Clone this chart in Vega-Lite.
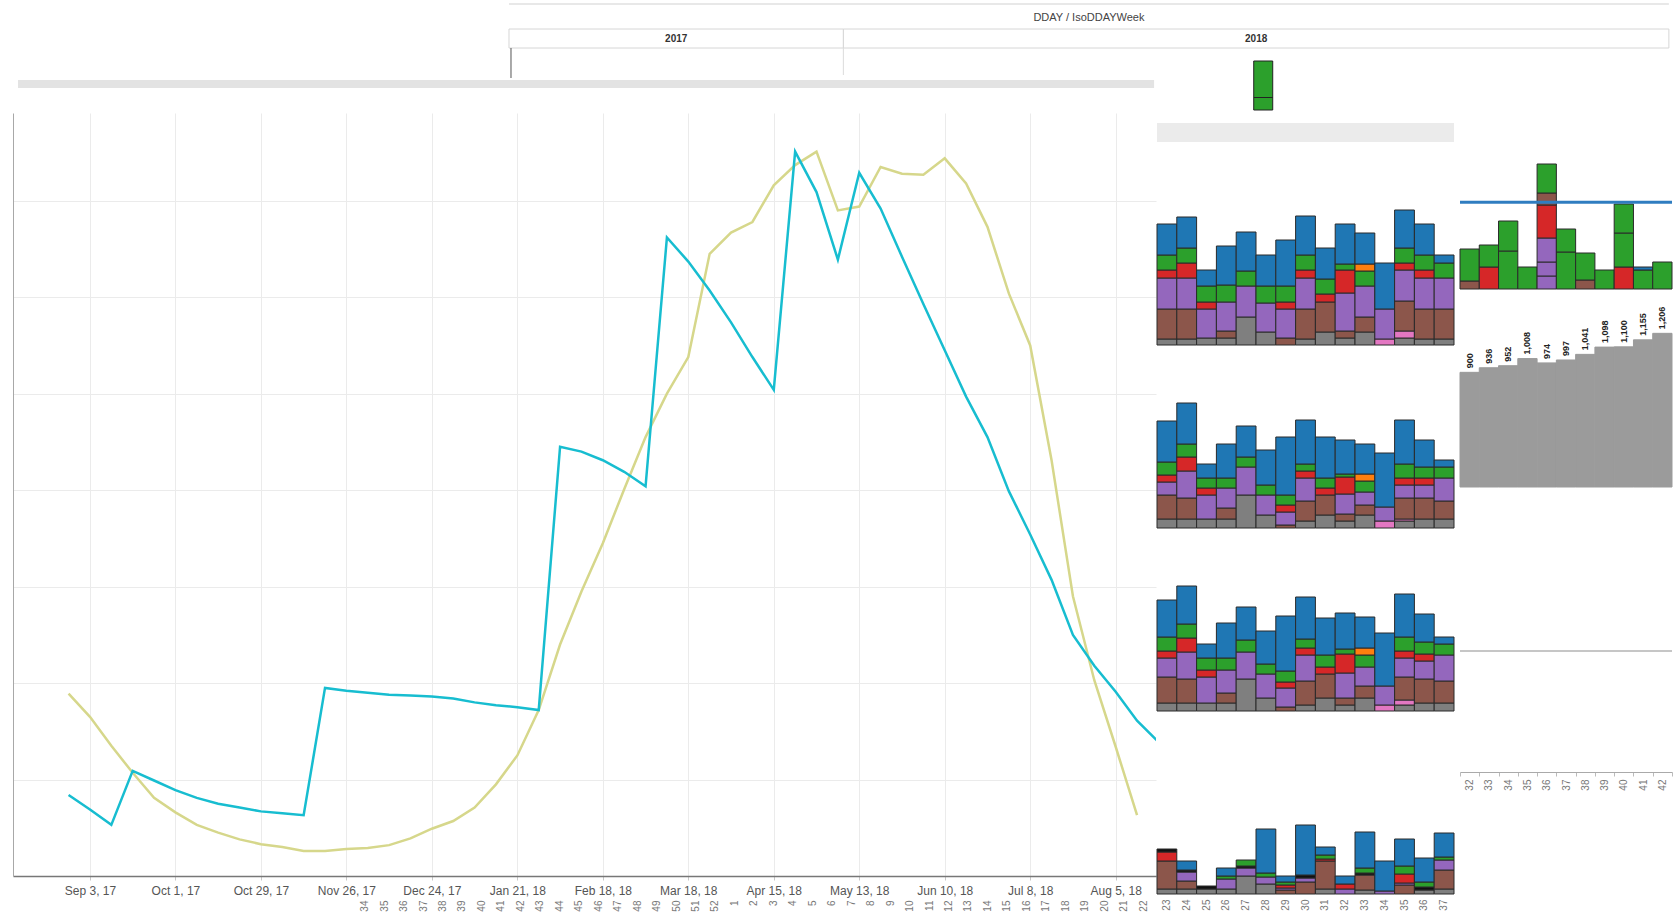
{
"$schema":"https://vega.github.io/schema/vega-lite/v6.json",
"padding":{"left":13,"top":0,"right":0,"bottom":0},
"background":"white",
"config":{"font":"Liberation Sans","view":{"stroke":null},"axis":{"labelFont":"Liberation Sans","titleFont":"Liberation Sans"},"text":{"font":"Liberation Sans"}},
"datasets":{
"hdr":[{"year":"2017","wkStart":0,"wkEnd":19},{"year":"2018","wkStart":19,"wkEnd":65.9}],
"top":[{"wk":43,"lo":0,"hi":12.5},{"wk":43,"lo":12.5,"hi":49}],
"main":[
{"d":"2017-08-27","s":"A","v":84},{"d":"2017-09-03","s":"A","v":69},{"d":"2017-09-10","s":"A","v":53},{"d":"2017-09-17","s":"A","v":109},{"d":"2017-09-24","s":"A","v":99},{"d":"2017-10-01","s":"A","v":89},{"d":"2017-10-08","s":"A","v":81},{"d":"2017-10-15","s":"A","v":75},{"d":"2017-10-22","s":"A","v":71},{"d":"2017-10-29","s":"A","v":67},{"d":"2017-11-05","s":"A","v":65},{"d":"2017-11-12","s":"A","v":63},{"d":"2017-11-19","s":"A","v":195},{"d":"2017-11-26","s":"A","v":192},{"d":"2017-12-03","s":"A","v":190},{"d":"2017-12-10","s":"A","v":188},{"d":"2017-12-17","s":"A","v":187},{"d":"2017-12-24","s":"A","v":186},{"d":"2017-12-31","s":"A","v":184},{"d":"2018-01-07","s":"A","v":180},{"d":"2018-01-14","s":"A","v":177},{"d":"2018-01-21","s":"A","v":175},{"d":"2018-01-28","s":"A","v":172},{"d":"2018-02-04","s":"A","v":445},{"d":"2018-02-11","s":"A","v":440},{"d":"2018-02-18","s":"A","v":431},{"d":"2018-02-25","s":"A","v":419},{"d":"2018-03-04","s":"A","v":404},{"d":"2018-03-11","s":"A","v":662},{"d":"2018-03-18","s":"A","v":637},{"d":"2018-03-25","s":"A","v":607},{"d":"2018-04-01","s":"A","v":574},{"d":"2018-04-08","s":"A","v":538},{"d":"2018-04-15","s":"A","v":504},{"d":"2018-04-22","s":"A","v":751},{"d":"2018-04-29","s":"A","v":709},{"d":"2018-05-06","s":"A","v":639},{"d":"2018-05-13","s":"A","v":729},{"d":"2018-05-20","s":"A","v":692},{"d":"2018-05-27","s":"A","v":642},{"d":"2018-06-03","s":"A","v":593},{"d":"2018-06-10","s":"A","v":545},{"d":"2018-06-17","s":"A","v":497},{"d":"2018-06-24","s":"A","v":455},{"d":"2018-07-01","s":"A","v":399},{"d":"2018-07-08","s":"A","v":354},{"d":"2018-07-15","s":"A","v":307},{"d":"2018-07-22","s":"A","v":250},{"d":"2018-07-29","s":"A","v":218},{"d":"2018-08-05","s":"A","v":191},{"d":"2018-08-12","s":"A","v":161},{"d":"2018-08-19","s":"A","v":139},
{"d":"2017-08-27","s":"B","v":189},{"d":"2017-09-03","s":"B","v":165},{"d":"2017-09-10","s":"B","v":135},{"d":"2017-09-17","s":"B","v":107},{"d":"2017-09-24","s":"B","v":81},{"d":"2017-10-01","s":"B","v":66},{"d":"2017-10-08","s":"B","v":53},{"d":"2017-10-15","s":"B","v":45},{"d":"2017-10-22","s":"B","v":38},{"d":"2017-10-29","s":"B","v":33},{"d":"2017-11-05","s":"B","v":30},{"d":"2017-11-12","s":"B","v":26},{"d":"2017-11-19","s":"B","v":26},{"d":"2017-11-26","s":"B","v":28},{"d":"2017-12-03","s":"B","v":29},{"d":"2017-12-10","s":"B","v":32},{"d":"2017-12-17","s":"B","v":39},{"d":"2017-12-24","s":"B","v":49},{"d":"2017-12-31","s":"B","v":57},{"d":"2018-01-07","s":"B","v":71},{"d":"2018-01-14","s":"B","v":95},{"d":"2018-01-21","s":"B","v":125},{"d":"2018-01-28","s":"B","v":172},{"d":"2018-02-04","s":"B","v":240},{"d":"2018-02-11","s":"B","v":295},{"d":"2018-02-18","s":"B","v":345},{"d":"2018-02-25","s":"B","v":401},{"d":"2018-03-04","s":"B","v":455},{"d":"2018-03-11","s":"B","v":500},{"d":"2018-03-18","s":"B","v":538},{"d":"2018-03-25","s":"B","v":645},{"d":"2018-04-01","s":"B","v":667},{"d":"2018-04-08","s":"B","v":678},{"d":"2018-04-15","s":"B","v":716},{"d":"2018-04-22","s":"B","v":737},{"d":"2018-04-29","s":"B","v":751},{"d":"2018-05-06","s":"B","v":690},{"d":"2018-05-13","s":"B","v":694},{"d":"2018-05-20","s":"B","v":735},{"d":"2018-05-27","s":"B","v":728},{"d":"2018-06-03","s":"B","v":727},{"d":"2018-06-10","s":"B","v":744},{"d":"2018-06-17","s":"B","v":718},{"d":"2018-06-24","s":"B","v":673},{"d":"2018-07-01","s":"B","v":604},{"d":"2018-07-08","s":"B","v":550},{"d":"2018-07-15","s":"B","v":431},{"d":"2018-07-22","s":"B","v":290},{"d":"2018-07-29","s":"B","v":203},{"d":"2018-08-05","s":"B","v":134},{"d":"2018-08-12","s":"B","v":63}
],
"weeks":[{"i":0,"wk":"34"},{"i":1,"wk":"35"},{"i":2,"wk":"36"},{"i":3,"wk":"37"},{"i":4,"wk":"38"},{"i":5,"wk":"39"},{"i":6,"wk":"40"},{"i":7,"wk":"41"},{"i":8,"wk":"42"},{"i":9,"wk":"43"},{"i":10,"wk":"44"},{"i":11,"wk":"45"},{"i":12,"wk":"46"},{"i":13,"wk":"47"},{"i":14,"wk":"48"},{"i":15,"wk":"49"},{"i":16,"wk":"50"},{"i":17,"wk":"51"},{"i":18,"wk":"52"},{"i":19,"wk":"1"},{"i":20,"wk":"2"},{"i":21,"wk":"3"},{"i":22,"wk":"4"},{"i":23,"wk":"5"},{"i":24,"wk":"6"},{"i":25,"wk":"7"},{"i":26,"wk":"8"},{"i":27,"wk":"9"},{"i":28,"wk":"10"},{"i":29,"wk":"11"},{"i":30,"wk":"12"},{"i":31,"wk":"13"},{"i":32,"wk":"14"},{"i":33,"wk":"15"},{"i":34,"wk":"16"},{"i":35,"wk":"17"},{"i":36,"wk":"18"},{"i":37,"wk":"19"},{"i":38,"wk":"20"},{"i":39,"wk":"21"},{"i":40,"wk":"22"}],
"stk":[
{"p":1,"w":23,"g":1,"v":6},{"p":1,"w":23,"g":3,"v":30},{"p":1,"w":23,"g":4,"v":31},{"p":1,"w":23,"g":5,"v":8},{"p":1,"w":23,"g":7,"v":15},{"p":1,"w":23,"g":9,"v":31},
{"p":1,"w":24,"g":1,"v":6},{"p":1,"w":24,"g":3,"v":30},{"p":1,"w":24,"g":4,"v":31},{"p":1,"w":24,"g":5,"v":15},{"p":1,"w":24,"g":7,"v":15},{"p":1,"w":24,"g":9,"v":31},
{"p":1,"w":25,"g":1,"v":7},{"p":1,"w":25,"g":4,"v":29},{"p":1,"w":25,"g":5,"v":7},{"p":1,"w":25,"g":7,"v":16},{"p":1,"w":25,"g":9,"v":16},
{"p":1,"w":26,"g":1,"v":7},{"p":1,"w":26,"g":3,"v":7},{"p":1,"w":26,"g":4,"v":29},{"p":1,"w":26,"g":7,"v":17},{"p":1,"w":26,"g":9,"v":39},
{"p":1,"w":27,"g":1,"v":28},{"p":1,"w":27,"g":4,"v":31},{"p":1,"w":27,"g":7,"v":15},{"p":1,"w":27,"g":9,"v":39},
{"p":1,"w":28,"g":1,"v":13},{"p":1,"w":28,"g":4,"v":29},{"p":1,"w":28,"g":7,"v":17},{"p":1,"w":28,"g":9,"v":31},
{"p":1,"w":29,"g":3,"v":7},{"p":1,"w":29,"g":4,"v":29},{"p":1,"w":29,"g":5,"v":7},{"p":1,"w":29,"g":7,"v":16},{"p":1,"w":29,"g":9,"v":46},
{"p":1,"w":30,"g":1,"v":6},{"p":1,"w":30,"g":3,"v":30},{"p":1,"w":30,"g":4,"v":31},{"p":1,"w":30,"g":5,"v":8},{"p":1,"w":30,"g":7,"v":15},{"p":1,"w":30,"g":9,"v":39},
{"p":1,"w":31,"g":1,"v":13},{"p":1,"w":31,"g":3,"v":30},{"p":1,"w":31,"g":5,"v":8},{"p":1,"w":31,"g":7,"v":15},{"p":1,"w":31,"g":9,"v":31},
{"p":1,"w":32,"g":1,"v":7},{"p":1,"w":32,"g":3,"v":7},{"p":1,"w":32,"g":4,"v":38},{"p":1,"w":32,"g":5,"v":23},{"p":1,"w":32,"g":7,"v":6},{"p":1,"w":32,"g":9,"v":40},
{"p":1,"w":33,"g":1,"v":13},{"p":1,"w":33,"g":3,"v":15},{"p":1,"w":33,"g":4,"v":31},{"p":1,"w":33,"g":7,"v":15},{"p":1,"w":33,"g":8,"v":7},{"p":1,"w":33,"g":9,"v":31},
{"p":1,"w":34,"g":2,"v":6},{"p":1,"w":34,"g":4,"v":30},{"p":1,"w":34,"g":9,"v":46},
{"p":1,"w":35,"g":1,"v":7},{"p":1,"w":35,"g":2,"v":7},{"p":1,"w":35,"g":3,"v":30},{"p":1,"w":35,"g":4,"v":31},{"p":1,"w":35,"g":5,"v":7},{"p":1,"w":35,"g":7,"v":15},{"p":1,"w":35,"g":9,"v":38},
{"p":1,"w":36,"g":1,"v":6},{"p":1,"w":36,"g":3,"v":30},{"p":1,"w":36,"g":4,"v":31},{"p":1,"w":36,"g":5,"v":8},{"p":1,"w":36,"g":7,"v":15},{"p":1,"w":36,"g":9,"v":31},
{"p":1,"w":37,"g":1,"v":6},{"p":1,"w":37,"g":3,"v":30},{"p":1,"w":37,"g":4,"v":31},{"p":1,"w":37,"g":7,"v":15},{"p":1,"w":37,"g":9,"v":8},
{"p":2,"w":23,"g":1,"v":9},{"p":2,"w":23,"g":3,"v":24},{"p":2,"w":23,"g":4,"v":13},{"p":2,"w":23,"g":5,"v":7},{"p":2,"w":23,"g":7,"v":13},{"p":2,"w":23,"g":9,"v":41},
{"p":2,"w":24,"g":1,"v":9},{"p":2,"w":24,"g":3,"v":21},{"p":2,"w":24,"g":4,"v":27},{"p":2,"w":24,"g":5,"v":14},{"p":2,"w":24,"g":7,"v":13},{"p":2,"w":24,"g":9,"v":41},
{"p":2,"w":25,"g":1,"v":9},{"p":2,"w":25,"g":4,"v":24},{"p":2,"w":25,"g":5,"v":7},{"p":2,"w":25,"g":7,"v":10},{"p":2,"w":25,"g":9,"v":14},
{"p":2,"w":26,"g":1,"v":9},{"p":2,"w":26,"g":3,"v":11},{"p":2,"w":26,"g":4,"v":20},{"p":2,"w":26,"g":7,"v":10},{"p":2,"w":26,"g":9,"v":34},
{"p":2,"w":27,"g":1,"v":33},{"p":2,"w":27,"g":4,"v":28},{"p":2,"w":27,"g":7,"v":10},{"p":2,"w":27,"g":9,"v":31},
{"p":2,"w":28,"g":1,"v":13},{"p":2,"w":28,"g":4,"v":20},{"p":2,"w":28,"g":7,"v":10},{"p":2,"w":28,"g":9,"v":35},
{"p":2,"w":29,"g":3,"v":3},{"p":2,"w":29,"g":4,"v":13},{"p":2,"w":29,"g":5,"v":7},{"p":2,"w":29,"g":7,"v":10},{"p":2,"w":29,"g":9,"v":58},
{"p":2,"w":30,"g":1,"v":7},{"p":2,"w":30,"g":3,"v":20},{"p":2,"w":30,"g":4,"v":23},{"p":2,"w":30,"g":5,"v":7},{"p":2,"w":30,"g":7,"v":7},{"p":2,"w":30,"g":9,"v":44},
{"p":2,"w":31,"g":1,"v":13},{"p":2,"w":31,"g":3,"v":20},{"p":2,"w":31,"g":5,"v":7},{"p":2,"w":31,"g":7,"v":10},{"p":2,"w":31,"g":9,"v":41},
{"p":2,"w":32,"g":1,"v":7},{"p":2,"w":32,"g":3,"v":7},{"p":2,"w":32,"g":4,"v":20},{"p":2,"w":32,"g":5,"v":17},{"p":2,"w":32,"g":7,"v":3},{"p":2,"w":32,"g":9,"v":34},
{"p":2,"w":33,"g":1,"v":13},{"p":2,"w":33,"g":3,"v":10},{"p":2,"w":33,"g":4,"v":13},{"p":2,"w":33,"g":7,"v":11},{"p":2,"w":33,"g":8,"v":7},{"p":2,"w":33,"g":9,"v":30},
{"p":2,"w":34,"g":2,"v":7},{"p":2,"w":34,"g":4,"v":14},{"p":2,"w":34,"g":9,"v":54},
{"p":2,"w":35,"g":1,"v":7},{"p":2,"w":35,"g":2,"v":2},{"p":2,"w":35,"g":3,"v":21},{"p":2,"w":35,"g":4,"v":13},{"p":2,"w":35,"g":5,"v":7},{"p":2,"w":35,"g":7,"v":14},{"p":2,"w":35,"g":9,"v":44},
{"p":2,"w":36,"g":1,"v":9},{"p":2,"w":36,"g":3,"v":21},{"p":2,"w":36,"g":4,"v":13},{"p":2,"w":36,"g":5,"v":7},{"p":2,"w":36,"g":7,"v":11},{"p":2,"w":36,"g":9,"v":27},
{"p":2,"w":37,"g":1,"v":9},{"p":2,"w":37,"g":3,"v":18},{"p":2,"w":37,"g":4,"v":23},{"p":2,"w":37,"g":7,"v":11},{"p":2,"w":37,"g":9,"v":7},
{"p":3,"w":23,"g":1,"v":8},{"p":3,"w":23,"g":3,"v":26},{"p":3,"w":23,"g":4,"v":19},{"p":3,"w":23,"g":5,"v":7},{"p":3,"w":23,"g":7,"v":14},{"p":3,"w":23,"g":9,"v":37},
{"p":3,"w":24,"g":1,"v":8},{"p":3,"w":24,"g":3,"v":24},{"p":3,"w":24,"g":4,"v":27},{"p":3,"w":24,"g":5,"v":14},{"p":3,"w":24,"g":7,"v":14},{"p":3,"w":24,"g":9,"v":38},
{"p":3,"w":25,"g":1,"v":8},{"p":3,"w":25,"g":4,"v":26},{"p":3,"w":25,"g":5,"v":7},{"p":3,"w":25,"g":7,"v":12},{"p":3,"w":25,"g":9,"v":14},
{"p":3,"w":26,"g":1,"v":8},{"p":3,"w":26,"g":3,"v":10},{"p":3,"w":26,"g":4,"v":23},{"p":3,"w":26,"g":7,"v":12},{"p":3,"w":26,"g":9,"v":35},
{"p":3,"w":27,"g":1,"v":32},{"p":3,"w":27,"g":4,"v":27},{"p":3,"w":27,"g":7,"v":12},{"p":3,"w":27,"g":9,"v":33},
{"p":3,"w":28,"g":1,"v":13},{"p":3,"w":28,"g":4,"v":24},{"p":3,"w":28,"g":7,"v":10},{"p":3,"w":28,"g":9,"v":33},
{"p":3,"w":29,"g":3,"v":4},{"p":3,"w":29,"g":4,"v":19},{"p":3,"w":29,"g":5,"v":6},{"p":3,"w":29,"g":7,"v":11},{"p":3,"w":29,"g":9,"v":55},
{"p":3,"w":30,"g":1,"v":6},{"p":3,"w":30,"g":3,"v":24},{"p":3,"w":30,"g":4,"v":26},{"p":3,"w":30,"g":5,"v":7},{"p":3,"w":30,"g":7,"v":9},{"p":3,"w":30,"g":9,"v":42},
{"p":3,"w":31,"g":1,"v":13},{"p":3,"w":31,"g":3,"v":24},{"p":3,"w":31,"g":5,"v":7},{"p":3,"w":31,"g":7,"v":12},{"p":3,"w":31,"g":9,"v":37},
{"p":3,"w":32,"g":1,"v":6},{"p":3,"w":32,"g":3,"v":7},{"p":3,"w":32,"g":4,"v":25},{"p":3,"w":32,"g":5,"v":19},{"p":3,"w":32,"g":7,"v":5},{"p":3,"w":32,"g":9,"v":36},
{"p":3,"w":33,"g":1,"v":13},{"p":3,"w":33,"g":3,"v":12},{"p":3,"w":33,"g":4,"v":19},{"p":3,"w":33,"g":7,"v":12},{"p":3,"w":33,"g":8,"v":7},{"p":3,"w":33,"g":9,"v":31},
{"p":3,"w":34,"g":2,"v":6},{"p":3,"w":34,"g":4,"v":19},{"p":3,"w":34,"g":9,"v":53},
{"p":3,"w":35,"g":1,"v":6},{"p":3,"w":35,"g":2,"v":5},{"p":3,"w":35,"g":3,"v":23},{"p":3,"w":35,"g":4,"v":19},{"p":3,"w":35,"g":5,"v":7},{"p":3,"w":35,"g":7,"v":14},{"p":3,"w":35,"g":9,"v":43},
{"p":3,"w":36,"g":1,"v":8},{"p":3,"w":36,"g":3,"v":24},{"p":3,"w":36,"g":4,"v":18},{"p":3,"w":36,"g":5,"v":7},{"p":3,"w":36,"g":7,"v":12},{"p":3,"w":36,"g":9,"v":28},
{"p":3,"w":37,"g":1,"v":8},{"p":3,"w":37,"g":3,"v":22},{"p":3,"w":37,"g":4,"v":26},{"p":3,"w":37,"g":7,"v":11},{"p":3,"w":37,"g":9,"v":7},
{"p":4,"w":23,"g":1,"v":5},{"p":4,"w":23,"g":3,"v":28},{"p":4,"w":23,"g":5,"v":9},{"p":4,"w":23,"g":6,"v":3},
{"p":4,"w":24,"g":1,"v":5},{"p":4,"w":24,"g":3,"v":8},{"p":4,"w":24,"g":4,"v":9},{"p":4,"w":24,"g":6,"v":2},{"p":4,"w":24,"g":9,"v":9},
{"p":4,"w":25,"g":1,"v":5},{"p":4,"w":25,"g":6,"v":3},
{"p":4,"w":26,"g":1,"v":5},{"p":4,"w":26,"g":4,"v":10},{"p":4,"w":26,"g":7,"v":3},{"p":4,"w":26,"g":9,"v":8},
{"p":4,"w":27,"g":1,"v":18},{"p":4,"w":27,"g":4,"v":8},{"p":4,"w":27,"g":6,"v":2},{"p":4,"w":27,"g":7,"v":6},
{"p":4,"w":28,"g":1,"v":10},{"p":4,"w":28,"g":4,"v":7},{"p":4,"w":28,"g":7,"v":4},{"p":4,"w":28,"g":9,"v":44},
{"p":4,"w":29,"g":3,"v":4},{"p":4,"w":29,"g":4,"v":2},{"p":4,"w":29,"g":5,"v":3},{"p":4,"w":29,"g":7,"v":3},{"p":4,"w":29,"g":9,"v":6},
{"p":4,"w":30,"g":3,"v":12},{"p":4,"w":30,"g":4,"v":4},{"p":4,"w":30,"g":6,"v":3},{"p":4,"w":30,"g":9,"v":50},
{"p":4,"w":31,"g":1,"v":5},{"p":4,"w":31,"g":3,"v":28},{"p":4,"w":31,"g":5,"v":2},{"p":4,"w":31,"g":7,"v":4},{"p":4,"w":31,"g":9,"v":8},
{"p":4,"w":32,"g":4,"v":5},{"p":4,"w":32,"g":5,"v":5},{"p":4,"w":32,"g":9,"v":8},
{"p":4,"w":33,"g":1,"v":4},{"p":4,"w":33,"g":3,"v":15},{"p":4,"w":33,"g":6,"v":2},{"p":4,"w":33,"g":7,"v":5},{"p":4,"w":33,"g":9,"v":36},
{"p":4,"w":34,"g":4,"v":3},{"p":4,"w":34,"g":9,"v":30},
{"p":4,"w":35,"g":3,"v":9},{"p":4,"w":35,"g":4,"v":2},{"p":4,"w":35,"g":5,"v":9},{"p":4,"w":35,"g":7,"v":8},{"p":4,"w":35,"g":9,"v":27},
{"p":4,"w":36,"g":1,"v":4},{"p":4,"w":36,"g":6,"v":3},{"p":4,"w":36,"g":7,"v":5},{"p":4,"w":36,"g":9,"v":24},
{"p":4,"w":37,"g":1,"v":5},{"p":4,"w":37,"g":3,"v":19},{"p":4,"w":37,"g":4,"v":10},{"p":4,"w":37,"g":7,"v":3},{"p":4,"w":37,"g":9,"v":24}
],
"gb":[
{"w":32,"g":3,"v":8,"s":1},{"w":32,"g":7,"v":32,"s":2},
{"w":33,"g":5,"v":22,"s":1},{"w":33,"g":7,"v":22,"s":2},
{"w":34,"g":7,"v":38,"s":1},{"w":34,"g":7,"v":30,"s":2},
{"w":35,"g":7,"v":22,"s":1},
{"w":36,"g":4,"v":13,"s":1},{"w":36,"g":4,"v":14,"s":2},{"w":36,"g":4,"v":24,"s":3},{"w":36,"g":5,"v":33,"s":4},{"w":36,"g":3,"v":12,"s":5},{"w":36,"g":7,"v":29,"s":6},
{"w":37,"g":7,"v":37,"s":1},{"w":37,"g":7,"v":23,"s":2},
{"w":38,"g":3,"v":9,"s":1},{"w":38,"g":7,"v":27,"s":2},
{"w":39,"g":7,"v":19,"s":1},
{"w":40,"g":5,"v":22,"s":1},{"w":40,"g":7,"v":34,"s":2},{"w":40,"g":7,"v":29,"s":3},
{"w":41,"g":7,"v":19,"s":1},{"w":41,"g":9,"v":3,"s":2},
{"w":42,"g":7,"v":27,"s":1}
],
"gray":[{"w":32,"v":900},{"w":33,"v":936},{"w":34,"v":952},{"w":35,"v":1008},{"w":36,"v":974},{"w":37,"v":997},{"w":38,"v":1041},{"w":39,"v":1098},{"w":40,"v":1100},{"w":41,"v":1155},{"w":42,"v":1206}]
},
"spacing":0,
"vconcat":[
{"spacing":0,"bounds":"flush","vconcat":[
 {"width":1652,"height":29,"data":{"values":[{"t":"DDAY / IsoDDAYWeek"}]},"layer":[
  {"mark":{"type":"rule","color":"#e0e0e0","strokeWidth":1.5},"encoding":{"x":{"datum":0,"type":"quantitative","scale":{"domain":[-28.18,65.68],"nice":false,"zero":false},"axis":null},"x2":{"datum":65.9},"y":{"datum":25,"type":"quantitative","scale":{"domain":[0,29],"nice":false},"axis":null}}},
  {"mark":{"type":"text","fontSize":11,"color":"#444","baseline":"middle"},"encoding":{"x":{"datum":32.95,"type":"quantitative","scale":{"domain":[-28.18,65.68],"nice":false,"zero":false},"axis":null},"y":{"datum":11,"type":"quantitative","scale":{"domain":[0,29],"nice":false},"axis":null},"text":{"field":"t","type":"nominal"}}}
 ]},
 {"width":1652,"height":19,"data":{"name":"hdr"},"layer":[
  {"mark":{"type":"rect","fill":"white","stroke":"#d6d6d6","strokeWidth":1},"encoding":{"x":{"field":"wkStart","type":"quantitative","scale":{"domain":[-28.18,65.68],"nice":false,"zero":false},"axis":null},"x2":{"field":"wkEnd"}}},
  {"transform":[{"fold":["wkStart","wkEnd"],"as":["k","pos"]}],"mark":{"type":"text","fontSize":10,"fontWeight":"bold","color":"#333","baseline":"middle"},"encoding":{"x":{"field":"pos","aggregate":"mean","type":"quantitative","scale":{"domain":[-28.18,65.68],"nice":false,"zero":false},"axis":null},"text":{"field":"year","type":"nominal"}}}
 ]},
 {"width":1652,"height":65,"layer":[
  {"data":{"values":[{}]},"mark":{"type":"rect","color":"#e3e3e3"},"encoding":{"x":{"datum":-28.18,"type":"quantitative","scale":{"domain":[-28.18,65.68],"nice":false,"zero":false},"axis":null},"x2":{"datum":36.76},"y":{"datum":30,"type":"quantitative","scale":{"domain":[-3,62],"nice":false,"zero":false},"axis":null},"y2":{"datum":22}}},
  {"data":{"values":[{}]},"mark":{"type":"rule","color":"#555","strokeWidth":1},"encoding":{"x":{"datum":0,"type":"quantitative"},"y":{"datum":62,"type":"quantitative"},"y2":{"datum":32}}},
  {"data":{"values":[{}]},"mark":{"type":"rule","color":"#dcdcdc","strokeWidth":1},"encoding":{"x":{"datum":19,"type":"quantitative"},"y":{"datum":62,"type":"quantitative"},"y2":{"datum":35}}},
  {"data":{"name":"top"},"mark":{"type":"bar","width":19,"color":"#2ca02c","stroke":"#222","strokeWidth":1},"encoding":{"x":{"field":"wk","type":"quantitative"},"y":{"field":"lo","type":"quantitative"},"y2":{"field":"hi"}}}
 ]}
]},
{"spacing":0,"hconcat":[
 {"width":1143,"height":763,
  "layer":[
   {"data":{"name":"main"},"layer":[
    {"transform":[{"filter":"datum.s=='B'"}],"mark":{"type":"line","color":"#d6d78b","strokeWidth":2.5,"clip":true},"encoding":{
     "x":{"field":"d","type":"temporal","scale":{"type":"utc","domain":[{"year":2017,"month":8,"date":8,"hours":19,"utc":true},{"year":2018,"month":8,"date":18,"hours":5,"utc":true}]},"axis":{"values":[{"year":2017,"month":9,"date":3,"utc":true},{"year":2017,"month":10,"date":1,"utc":true},{"year":2017,"month":10,"date":29,"utc":true},{"year":2017,"month":11,"date":26,"utc":true},{"year":2017,"month":12,"date":24,"utc":true},{"year":2018,"month":1,"date":21,"utc":true},{"year":2018,"month":2,"date":18,"utc":true},{"year":2018,"month":3,"date":18,"utc":true},{"year":2018,"month":4,"date":15,"utc":true},{"year":2018,"month":5,"date":13,"utc":true},{"year":2018,"month":6,"date":10,"utc":true},{"year":2018,"month":7,"date":8,"utc":true},{"year":2018,"month":8,"date":5,"utc":true}],"format":"%b %-d, %y","labelFontSize":12,"labelColor":"#555","labelPadding":5,"labelOverlap":false,"labelFlush":false,"grid":true,"gridColor":"#ebebeb","domainColor":"#777","domainWidth":1.5,"tickColor":"#c8c8c8","tickSize":4,"title":null}},
     "y":{"field":"v","type":"quantitative","scale":{"domain":[0,791],"nice":false},"axis":{"values":[0,100,200,300,400,500,600,700],"labels":false,"ticks":false,"grid":true,"gridColor":"#ebebeb","domainColor":"#a8a8a8","title":null}}}},
    {"transform":[{"filter":"datum.s=='A'"}],"mark":{"type":"line","color":"#17bdd0","strokeWidth":2.5,"clip":true},"encoding":{
     "x":{"field":"d","type":"temporal"},
     "y":{"field":"v","type":"quantitative"}}}
   ]},
   {"data":{"name":"weeks"},"mark":{"type":"point","opacity":0},"encoding":{"x":{"field":"i","type":"quantitative","scale":{"domain":[-18.07,40.66],"nice":false,"zero":false},"axis":{"orient":"bottom","offset":22,"values":[0,1,2,3,4,5,6,7,8,9,10,11,12,13,14,15,16,17,18,19,20,21,22,23,24,25,26,27,28,29,30,31,32,33,34,35,36,37,38,39,40],"labelExpr":"datum.value < 19 ? '' + (datum.value + 34) : '' + (datum.value - 18)","labelAngle":270,"labelFontSize":10,"labelColor":"#777","labelOverlap":false,"labelPadding":2,"domain":false,"ticks":false,"grid":false,"title":null}}}}
  ],
  "resolve":{"scale":{"x":"independent"},"axis":{"x":"independent"}}
 },
 {"spacing":0,"bounds":"flush","vconcat":[
  {"width":297,"height":10,"data":{"values":[{}]},"mark":{"type":"point","opacity":0},"encoding":{}},
  {"width":297,"height":19,"view":{"fill":"#ebebeb","stroke":null},"data":{"values":[{}]},"mark":{"type":"point","opacity":0},"encoding":{}},
  {"width":297,"height":203,"data":{"name":"stk"},"transform":[{"filter":"datum.p==1"}],"mark":{"type":"bar","stroke":"#2a2a2a","strokeWidth":1},"encoding":{
   "x":{"field":"w","type":"ordinal","scale":{"paddingInner":0,"paddingOuter":0},"axis":null},
   "y":{"field":"v","type":"quantitative","stack":"zero","scale":{"domain":[0,203],"nice":false},"axis":null},
   "color":{"field":"g","type":"nominal","scale":{"domain":[1,2,3,4,5,6,7,8,9],"range":["#7f7f7f","#e377c2","#8c564b","#9467bd","#d62728","#111111","#2ca02c","#ff7f0e","#1f77b4"]},"legend":null},
   "order":{"field":"g","type":"quantitative"}}},
  {"width":297,"height":183,"data":{"name":"stk"},"transform":[{"filter":"datum.p==2"}],"mark":{"type":"bar","stroke":"#2a2a2a","strokeWidth":1},"encoding":{
   "x":{"field":"w","type":"ordinal","scale":{"paddingInner":0,"paddingOuter":0},"axis":null},
   "y":{"field":"v","type":"quantitative","stack":"zero","scale":{"domain":[0,183],"nice":false},"axis":null},
   "color":{"field":"g","type":"nominal","scale":{"domain":[1,2,3,4,5,6,7,8,9],"range":["#7f7f7f","#e377c2","#8c564b","#9467bd","#d62728","#111111","#2ca02c","#ff7f0e","#1f77b4"]},"legend":null},
   "order":{"field":"g","type":"quantitative"}}},
  {"width":297,"height":183,"data":{"name":"stk"},"transform":[{"filter":"datum.p==3"}],"mark":{"type":"bar","stroke":"#2a2a2a","strokeWidth":1},"encoding":{
   "x":{"field":"w","type":"ordinal","scale":{"paddingInner":0,"paddingOuter":0},"axis":null},
   "y":{"field":"v","type":"quantitative","stack":"zero","scale":{"domain":[0,183],"nice":false},"axis":null},
   "color":{"field":"g","type":"nominal","scale":{"domain":[1,2,3,4,5,6,7,8,9],"range":["#7f7f7f","#e377c2","#8c564b","#9467bd","#d62728","#111111","#2ca02c","#ff7f0e","#1f77b4"]},"legend":null},
   "order":{"field":"g","type":"quantitative"}}},
  {"width":297,"height":183,"data":{"name":"stk"},"transform":[{"filter":"datum.p==4"}],"mark":{"type":"bar","stroke":"#2a2a2a","strokeWidth":1},"encoding":{
   "x":{"field":"w","type":"ordinal","scale":{"paddingInner":0,"paddingOuter":0},"axis":{"labelAngle":270,"labelFontSize":10,"labelColor":"#777","domain":false,"ticks":false,"labelPadding":5,"title":null}},
   "y":{"field":"v","type":"quantitative","stack":"zero","scale":{"domain":[0,183],"nice":false},"axis":null},
   "color":{"field":"g","type":"nominal","scale":{"domain":[1,2,3,4,5,6,7,8,9],"range":["#7f7f7f","#e377c2","#8c564b","#9467bd","#d62728","#111111","#2ca02c","#ff7f0e","#1f77b4"]},"legend":null},
   "order":{"field":"g","type":"quantitative"}}}
 ]},
 {"spacing":0,"bounds":"flush","vconcat":[
  {"width":212,"height":176,"layer":[
   {"data":{"name":"gb"},"mark":{"type":"bar","stroke":"#2a2a2a","strokeWidth":1},"encoding":{
    "x":{"field":"w","type":"ordinal","scale":{"paddingInner":0,"paddingOuter":0},"axis":null},
    "y":{"field":"v","type":"quantitative","stack":"zero","scale":{"domain":[0,176],"nice":false},"axis":null},
    "color":{"field":"g","type":"nominal","scale":{"domain":[1,2,3,4,5,6,7,8,9],"range":["#7f7f7f","#e377c2","#8c564b","#9467bd","#d62728","#111111","#2ca02c","#ff7f0e","#1f77b4"]},"legend":null},
    "order":{"field":"s","type":"quantitative"}}},
   {"data":{"values":[{}]},"mark":{"type":"rule","color":"#2f7dc0","strokeWidth":3},"encoding":{"y":{"datum":86.7,"type":"quantitative"}}}
  ]},
  {"width":212,"height":198,"data":{"name":"gray"},"layer":[
   {"mark":{"type":"bar","color":"#9b9b9b","stroke":"#9b9b9b","strokeWidth":1},"encoding":{
    "x":{"field":"w","type":"ordinal","scale":{"paddingInner":0,"paddingOuter":0},"axis":null},
    "y":{"field":"v","type":"quantitative","scale":{"domain":[0,1554],"nice":false},"axis":null}}},
   {"mark":{"type":"text","angle":270,"align":"left","baseline":"middle","dx":4,"fontSize":9,"fontWeight":"bold","color":"#222"},"encoding":{
    "x":{"field":"w","type":"ordinal"},
    "y":{"field":"v","type":"quantitative"},
    "text":{"field":"v","type":"quantitative","format":","}}}
  ]},
  {"width":212,"height":285,"layer":[
   {"data":{"name":"gray"},"mark":{"type":"point","opacity":0},"encoding":{"x":{"field":"w","type":"ordinal","scale":{"paddingInner":0,"paddingOuter":0},"axis":{"labelAngle":270,"labelFontSize":10,"labelColor":"#777","domainColor":"#aaa","tickColor":"#bbb","tickSize":4,"tickBand":"extent","labelPadding":3,"title":null}}}},
   {"data":{"values":[{}]},"mark":{"type":"rule","color":"#b3b3b3","strokeWidth":1.5},"encoding":{"y":{"datum":42.5,"type":"quantitative","scale":{"domain":[0,100],"nice":false},"axis":null}}}
  ]}
 ]}
]}
]
}
